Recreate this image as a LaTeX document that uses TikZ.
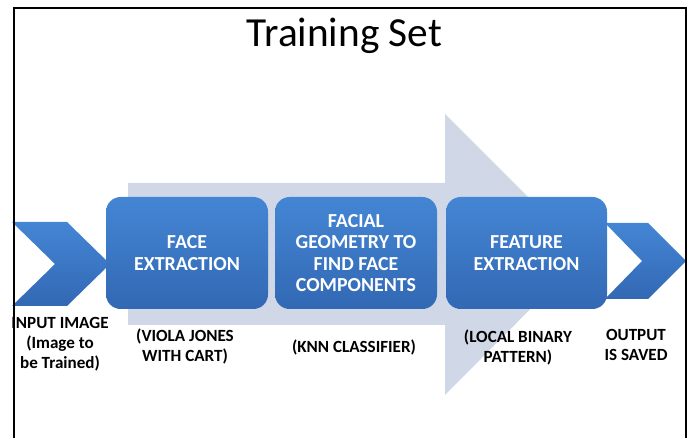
\documentclass[tikz,border=0pt]{standalone}
\usepackage{fontspec}
\setmainfont{Carlito}
\usepackage{tikz}
\usetikzlibrary{positioning}

\definecolor{boxtop}{RGB}{68,134,212}
\definecolor{boxbot}{RGB}{50,104,180}
\definecolor{bgarrow}{RGB}{208,215,230}

\tikzset{
  box/.style={rectangle, rounded corners=11pt, minimum width=121.5pt, minimum height=84pt,
    top color=boxtop, bottom color=boxbot, text=white, align=center, inner sep=0pt,
    font=\bfseries\fontsize{14.9}{16.1}\selectfont},
  chev/.style={top color=boxtop, bottom color=boxbot},
  note/.style={align=center, inner sep=0pt, font=\bfseries\fontsize{12.8}{15}\selectfont}
}

\begin{document}
\begin{tikzpicture}[x=0.75pt,y=-0.75pt]
  \useasboundingbox (0,0) rectangle (689,438);
   \draw (344.5,47) node[anchor=base, inner sep=0pt, font=\fontsize{31}{34}\selectfont] (title) {Training Set};

   % big light arrow behind the steps
   \fill[bgarrow] (128,183) -- (445,183) -- (445,114) -- (585,254) -- (445,395) -- (445,325) -- (128,325) -- cycle;

   % in and out chevrons
   \shade[chev] (12,222) -- (67,222) -- (110,264) -- (67,306) -- (12,306) -- (55,264) -- cycle;
   \shade[chev] (605,223) -- (648,223) -- (686,261) -- (648,299) -- (605,299) -- (642,261) -- cycle;

    \draw (187,253) node[box] (face) {FACE\\EXTRACTION};
    \draw (356,253) node[box] (geometry) {FACIAL\\GEOMETRY TO\\FIND FACE\\COMPONENTS};
    \draw (526.5,253) node[box, minimum width=120.75pt] (feature) {FEATURE\\EXTRACTION};

  \draw (60,344) node[note] (input) {INPUT IMAGE\\(Image to\\be Trained)};
  \draw (185,346) node[note] (viola) {(VIOLA JONES\\WITH CART)};
  \draw (354,347) node[note] (knn) {(KNN CLASSIFIER)};
  \draw (518,347) node[note] (lbp) {(LOCAL BINARY\\PATTERN)};
  \draw (636,344.5) node[note] (output) {OUTPUT\\IS SAVED};

   % frame, open at the bottom
   \draw[line width=1.6pt] (14,438) -- (14,8) -- (686,8) -- (686,438);
\end{tikzpicture}
\end{document}
